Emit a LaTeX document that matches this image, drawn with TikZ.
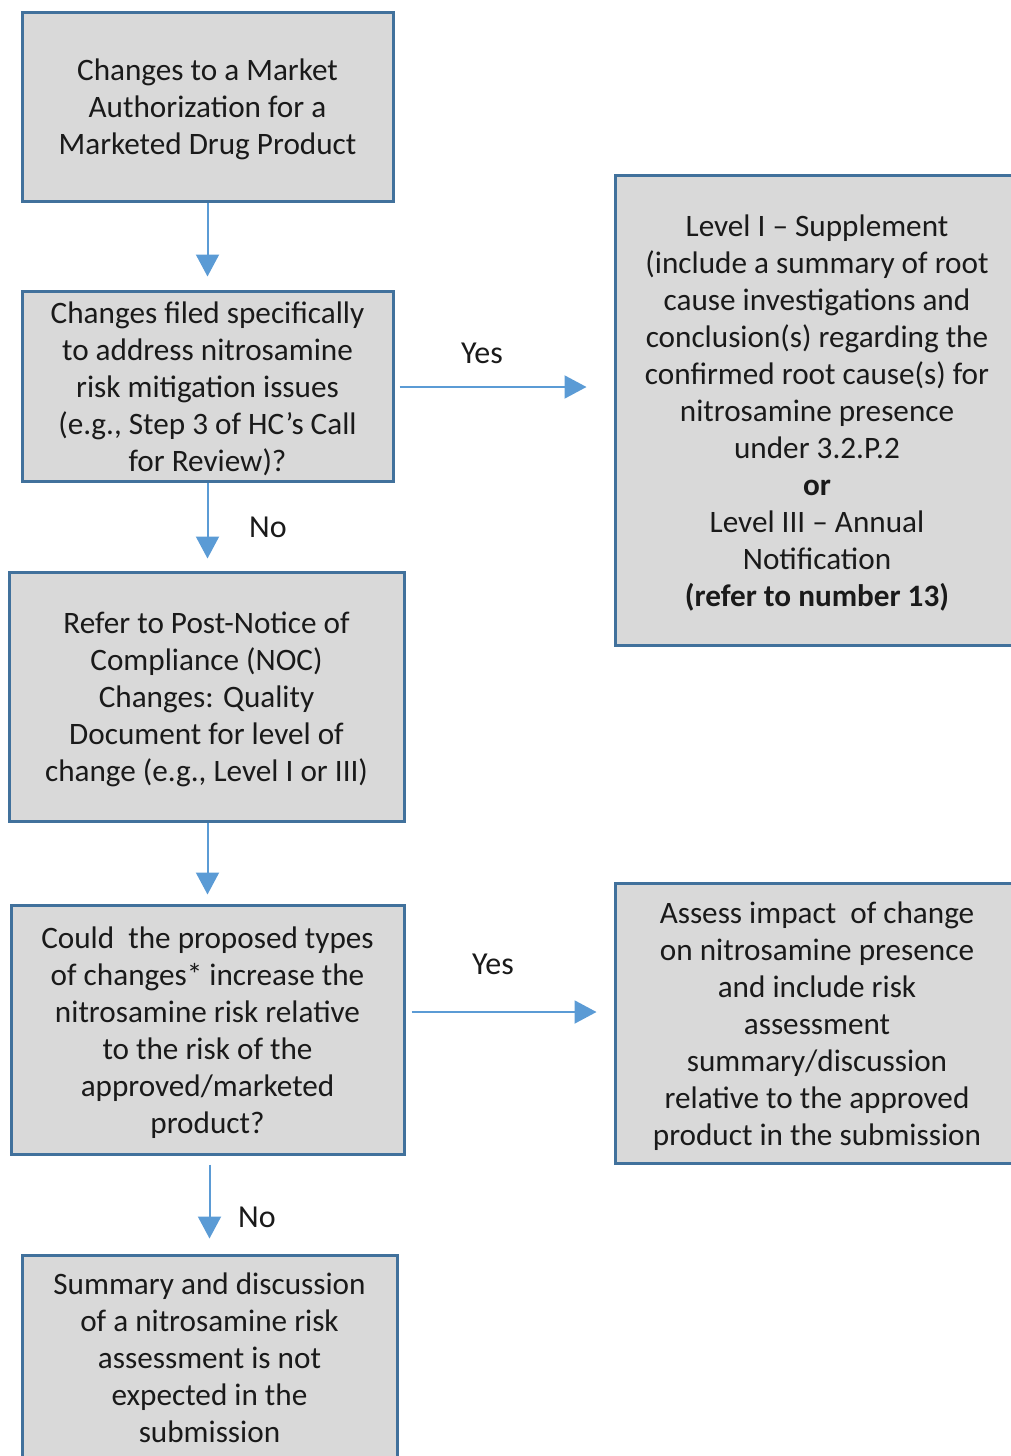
\documentclass[tikz,border=0pt]{standalone}
\usepackage{fontspec}
\setmainfont{Carlito}
\usetikzlibrary{arrows.meta,calc}
\definecolor{boxborder}{HTML}{41719C}
\definecolor{boxfill}{HTML}{D9D9D9}
\definecolor{arrowblue}{HTML}{5B9BD5}
\definecolor{txt}{HTML}{1A1A1A}
\begin{document}
\begin{tikzpicture}[x=1pt,y=-1pt,
  flowbox/.style={draw=boxborder,line width=3pt,fill=boxfill,rectangle,inner sep=0pt},
  boxtext/.style={inner sep=0pt,align=center,text=txt,
    font=\fontsize{31.2}{37}\selectfont},
  arr/.style={draw=arrowblue,line width=2pt,
    -{Triangle[length=22pt,width=23pt]}},
  lbl/.style={text=txt,font=\fontsize{32}{37}\selectfont,inner sep=0pt}]
\useasboundingbox (0,0) rectangle (1011,1456);
\clip (0,0) rectangle (1011,1456);
\node[flowbox,minimum width=371pt,minimum height=189pt] (b1) at (207.5,106.5) {};
\node[flowbox,minimum width=371pt,minimum height=190pt] (b2) at (207.5,386) {};
\node[flowbox,minimum width=404pt,minimum height=470pt] (r1) at (817,410) {};
\node[flowbox,minimum width=395pt,minimum height=249pt] (b3) at (206.5,696.5) {};
\node[flowbox,minimum width=393pt,minimum height=249pt] (b4) at (207.5,1029.5) {};
\node[flowbox,minimum width=404pt,minimum height=280pt] (r2) at (817,1023) {};
\node[flowbox,minimum width=375pt,minimum height=207pt] (b5) at (209.5,1358.5) {};
\node[boxtext] (t1) at ([yshift=-3pt]b1.center)
  {Changes to a Market\\Authorization for a\\Marketed Drug Product};
\node[boxtext] (t2) at ([yshift=-3pt]b2.center)
  {Changes filed specifically\\to address nitrosamine\\risk mitigation issues\\(e.g., Step 3 of HC’s Call\\for Review)?};
\node[boxtext] (tr1) at ([yshift=-3pt]r1.center)
  {Level I – Supplement\\(include a summary of root\\cause investigations and\\conclusion(s) regarding the\\confirmed root cause(s) for\\nitrosamine presence\\under 3.2.P.2\\\textbf{or}\\Level III – Annual\\Notification\\\textbf{(refer to number 13)}};
\node[boxtext] (t3) at ([yshift=-3pt]b3.center)
  {Refer to Post-Notice of\\Compliance (NOC)\\Changes: Quality\\Document for level of\\change (e.g., Level I or III)};
\node[boxtext] (t4) at ([yshift=-3pt]b4.center)
  {Could~ the proposed types\\of changes* increase the\\nitrosamine risk relative\\to the risk of the\\approved/marketed\\product?};
\node[boxtext] (tr2) at ([yshift=-3pt]r2.center)
  {Assess impact~ of change\\on nitrosamine presence\\and include risk\\assessment\\summary/discussion\\relative to the approved\\product in the submission};
\node[boxtext] (t5) at ([yshift=1pt]b5.center)
  {Summary and discussion\\of a nitrosamine risk\\assessment is not\\expected in the\\submission};
\coordinate (y1) at (0,387);
\coordinate (y2) at (0,1012);
\draw[arr,shorten >=13pt] (b1.south) -- (b2.north);
\draw[arr,shorten >=27pt] ([xshift=5pt]b2.east |- y1) -- (r1.west |- y1);
\draw[arr,shorten >=12pt] (b2.south) -- (b3.north -| b2.south);
\draw[arr,shorten >=9pt] (b3.south -| b1.south) -- (b4.north -| b1.south);
\draw[arr,shorten >=17pt] ([xshift=6pt]b4.east |- y2) -- (r2.west |- y2);
\draw[arr,shorten >=15pt] ([yshift=-9pt]b4.south -| b5.north) -- (b5.north);
\node[lbl] (yes1) at (482,353) {Yes};
\node[lbl] (no1) at (268,527) {No};
\node[lbl] (yes2) at (493,964) {Yes};
\node[lbl] (no2) at (257,1217) {No};
\end{tikzpicture}
\end{document}
